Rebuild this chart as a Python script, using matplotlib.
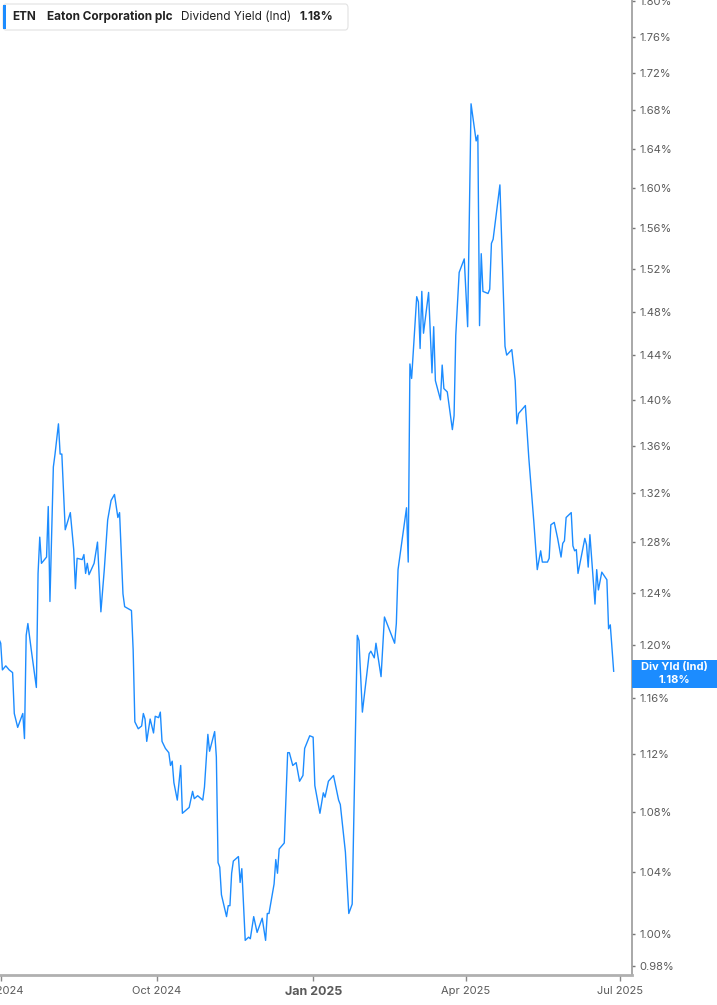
import matplotlib
matplotlib.use("Agg")
import matplotlib.pyplot as plt
import pandas as pd
from matplotlib.patches import Rectangle, FancyBboxPatch
from matplotlib.ticker import FixedLocator, FuncFormatter, NullLocator

# ETN dividend yield (indicated), %
dates = [
    "2024-06-30", "2024-07-01", "2024-07-02", "2024-07-04", "2024-07-06", "2024-07-08",
    "2024-07-09", "2024-07-11", "2024-07-14", "2024-07-15", "2024-07-16", "2024-07-17",
    "2024-07-19", "2024-07-22", "2024-07-23", "2024-07-24", "2024-07-25", "2024-07-28",
    "2024-07-29", "2024-07-30", "2024-08-01", "2024-08-02", "2024-08-04", "2024-08-05",
    "2024-08-06", "2024-08-08", "2024-08-11", "2024-08-13", "2024-08-14", "2024-08-15",
    "2024-08-18", "2024-08-19", "2024-08-20", "2024-08-21", "2024-08-22", "2024-08-25",
    "2024-08-27", "2024-08-29", "2024-08-31", "2024-09-02", "2024-09-04", "2024-09-06",
    "2024-09-08", "2024-09-09", "2024-09-11", "2024-09-12", "2024-09-16", "2024-09-17",
    "2024-09-18", "2024-09-20", "2024-09-22", "2024-09-23", "2024-09-24", "2024-09-25",
    "2024-09-27", "2024-09-29", "2024-09-30", "2024-10-02", "2024-10-03", "2024-10-04",
    "2024-10-06", "2024-10-08", "2024-10-09", "2024-10-10", "2024-10-11", "2024-10-13",
    "2024-10-15", "2024-10-16", "2024-10-20", "2024-10-22", "2024-10-23", "2024-10-25",
    "2024-10-28", "2024-10-29", "2024-10-31", "2024-11-01", "2024-11-04", "2024-11-05",
    "2024-11-06", "2024-11-07", "2024-11-08", "2024-11-11", "2024-11-12", "2024-11-13",
    "2024-11-14", "2024-11-15", "2024-11-18", "2024-11-19", "2024-11-20", "2024-11-22",
    "2024-11-24", "2024-11-25", "2024-11-27", "2024-11-29", "2024-12-02", "2024-12-04",
    "2024-12-05", "2024-12-06", "2024-12-09", "2024-12-10", "2024-12-11", "2024-12-12",
    "2024-12-15", "2024-12-17", "2024-12-18", "2024-12-20", "2024-12-22", "2024-12-24",
    "2024-12-26", "2024-12-27", "2024-12-30", "2025-01-01", "2025-01-02", "2025-01-05",
    "2025-01-07", "2025-01-08", "2025-01-10", "2025-01-13", "2025-01-16", "2025-01-17",
    "2025-01-20", "2025-01-22", "2025-01-24", "2025-01-27", "2025-01-28", "2025-01-30",
    "2025-02-03", "2025-02-04", "2025-02-06", "2025-02-07", "2025-02-10", "2025-02-12",
    "2025-02-18", "2025-02-19", "2025-02-20", "2025-02-25", "2025-02-26", "2025-02-27",
    "2025-02-28", "2025-03-03", "2025-03-04", "2025-03-05", "2025-03-06", "2025-03-07",
    "2025-03-10", "2025-03-12", "2025-03-13", "2025-03-14", "2025-03-17", "2025-03-18",
    "2025-03-19", "2025-03-21", "2025-03-24", "2025-03-25", "2025-03-26", "2025-03-28",
    "2025-03-31", "2025-04-02", "2025-04-04", "2025-04-07", "2025-04-08", "2025-04-09",
    "2025-04-10", "2025-04-11", "2025-04-14", "2025-04-15", "2025-04-16", "2025-04-17",
    "2025-04-21", "2025-04-24", "2025-04-25", "2025-04-28", "2025-04-30", "2025-05-01",
    "2025-05-02", "2025-05-06", "2025-05-08", "2025-05-11", "2025-05-13", "2025-05-15",
    "2025-05-16", "2025-05-19", "2025-05-20", "2025-05-21", "2025-05-23", "2025-05-25",
    "2025-05-27", "2025-05-28", "2025-05-29", "2025-05-30", "2025-06-02", "2025-06-03",
    "2025-06-04", "2025-06-05", "2025-06-06", "2025-06-10", "2025-06-11", "2025-06-12",
    "2025-06-13", "2025-06-16", "2025-06-17", "2025-06-18", "2025-06-20", "2025-06-23",
    "2025-06-24", "2025-06-25", "2025-06-27",
]
div_yield = [
    1.204, 1.201, 1.181, 1.184, 1.181, 1.179,
    1.149, 1.139, 1.149, 1.131, 1.207, 1.216,
    1.196, 1.168, 1.255, 1.284, 1.263, 1.268,
    1.309, 1.233, 1.342, 1.353, 1.379, 1.353,
    1.353, 1.290, 1.304, 1.274, 1.243, 1.267,
    1.266, 1.270, 1.255, 1.263, 1.254, 1.263,
    1.280, 1.225, 1.258, 1.298, 1.314, 1.319,
    1.300, 1.304, 1.239, 1.229, 1.226, 1.196,
    1.143, 1.138, 1.140, 1.149, 1.145, 1.129,
    1.145, 1.135, 1.147, 1.146, 1.150, 1.129,
    1.124, 1.121, 1.112, 1.115, 1.100, 1.088,
    1.112, 1.079, 1.083, 1.094, 1.089, 1.091,
    1.088, 1.097, 1.134, 1.122, 1.136, 1.118,
    1.046, 1.043, 1.025, 1.011, 1.018, 1.018,
    1.039, 1.047, 1.050, 1.033, 1.042, 0.996,
    0.998, 0.997, 1.011, 1.001, 1.010, 0.996,
    1.013, 1.013, 1.032, 1.048, 1.039, 1.055,
    1.059, 1.121, 1.121, 1.112, 1.114, 1.101,
    1.105, 1.124, 1.133, 1.132, 1.098, 1.079,
    1.093, 1.090, 1.101, 1.105, 1.088, 1.085,
    1.053, 1.013, 1.019, 1.207, 1.203, 1.150,
    1.193, 1.195, 1.190, 1.201, 1.176, 1.221,
    1.201, 1.216, 1.258, 1.308, 1.264, 1.432,
    1.419, 1.494, 1.489, 1.446, 1.499, 1.460,
    1.498, 1.424, 1.466, 1.417, 1.400, 1.431,
    1.410, 1.407, 1.374, 1.386, 1.458, 1.517,
    1.530, 1.466, 1.687, 1.648, 1.654, 1.467,
    1.535, 1.499, 1.497, 1.501, 1.545, 1.549,
    1.603, 1.448, 1.440, 1.445, 1.417, 1.379,
    1.388, 1.395, 1.350, 1.296, 1.258, 1.273,
    1.264, 1.264, 1.267, 1.294, 1.296, 1.283,
    1.268, 1.279, 1.281, 1.300, 1.304, 1.277,
    1.273, 1.274, 1.255, 1.283, 1.278, 1.260,
    1.286, 1.231, 1.258, 1.242, 1.256, 1.250,
    1.212, 1.215, 1.180,
]

ytick_vals = [0.98, 1.00, 1.04, 1.08, 1.12, 1.16, 1.20, 1.24, 1.28, 1.32, 1.36,
              1.40, 1.44, 1.48, 1.52, 1.56, 1.60, 1.64, 1.68, 1.72, 1.76, 1.80]
xtick_dates = ["2024-07-01", "2024-10-01", "2025-01-01", "2025-04-01", "2025-07-01"]
xtick_labels = ["Jul 2024", "Oct 2024", "Jan 2025", "Apr 2025", "Jul 2025"]

ticker = "ETN"
company = "Eaton Corporation plc"
metric = "Dividend Yield (Ind)"
last_label = "Div Yld (Ind)"

BLUE = "#1c8cff"
FONT = ["Inter", "DejaVu Sans"]
plt.rcParams["font.family"] = FONT

W, H = 717, 1005
fig = plt.figure(figsize=(W / 100, H / 100), dpi=100)
ax = fig.add_axes([0, 30 / H, 632 / W, 975 / H])

x = pd.to_datetime(dates)
ax.plot(x, div_yield, color=BLUE, lw=1.0)

ax.set_yscale("log")
ax.set_ylim(0.9745, 1.801)
ax.set_xlim(pd.Timestamp("2024-06-30 14:00"), pd.Timestamp("2025-07-07 19:00"))

ax.yaxis.tick_right()
ax.yaxis.set_major_locator(FixedLocator(ytick_vals))
ax.yaxis.set_minor_locator(NullLocator())
ax.yaxis.set_major_formatter(FuncFormatter(lambda v, _: f"{v:.2f}%"))
ax.tick_params(axis="y", which="major", length=2.5, width=1, color="#777777",
               labelcolor="#5a5a5a", labelsize=8, pad=3)

ax.set_xticks(pd.to_datetime(xtick_dates))
ax.set_xticklabels(xtick_labels)
ax.xaxis.set_minor_locator(NullLocator())
ax.tick_params(axis="x", length=4, width=1, color="#888888",
               labelcolor="#5a5a5a", labelsize=8, pad=4)
for lab in ax.get_xticklabels():
    if lab.get_text() == "Jan 2025":
        lab.set_fontweight("bold")
        lab.set_fontsize(9)

for side in ("top", "left"):
    ax.spines[side].set_visible(False)
ax.spines["right"].set_color("#9a9a9a")
ax.spines["right"].set_linewidth(1.2)
ax.spines["bottom"].set_color("#b0b0b0")
ax.spines["bottom"].set_linewidth(2)

# header box
fig.patches.append(FancyBboxPatch((3 / W, 1 - 30 / H), 345 / W, 26 / H,
                                  boxstyle="round,pad=0,rounding_size=0.004",
                                  transform=fig.transFigure, facecolor="white",
                                  edgecolor="#e2e2e2", lw=0.8, zorder=5))
fig.patches.append(Rectangle((3 / W, 1 - 29 / H), 3 / W, 24 / H,
                             transform=fig.transFigure, facecolor=BLUE,
                             edgecolor="none", zorder=6))
ty = 1 - 17 / H
fig.text(12 / W, ty, ticker, weight="bold", size=8.5, color="#222222", va="center", zorder=7)
fig.text(47 / W, ty, company, weight="bold", size=8.5, color="#222222", va="center", zorder=7)
fig.text(181 / W, ty, metric, size=8.5, color="#222222", va="center", zorder=7)
fig.text(299 / W, ty, f"{div_yield[-1]:.2f}%", weight="bold", size=8.5, color="#222222",
         va="center", zorder=7)

# last value tag on the right axis
fig.patches.append(Rectangle((632 / W, 1 - 688 / H), 85 / W, 28 / H,
                             transform=fig.transFigure, facecolor=BLUE,
                             edgecolor="none", zorder=6))
fig.text(674 / W, 1 - 667 / H, last_label, weight="bold", size=8, color="white",
         ha="center", va="center", zorder=7)
fig.text(674 / W, 1 - 680 / H, f"{div_yield[-1]:.2f}%", weight="bold", size=8,
         color="white", ha="center", va="center", zorder=7)

fig.savefig("out.png", dpi=100, facecolor="white")
